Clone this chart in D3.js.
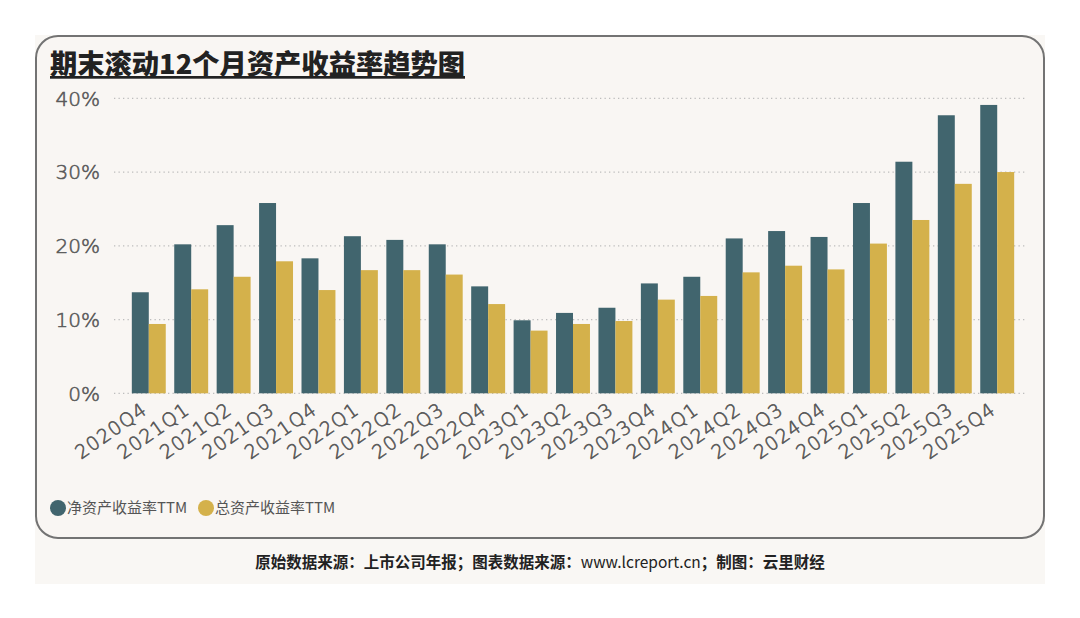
<!DOCTYPE html>
<html>
<head>
<meta charset="utf-8">
<script src="https://cdn.jsdelivr.net/npm/d3@7"></script>
<style>
  body { margin: 0; background: #fff; }
  svg { display: block; }
</style>
</head>
<body>
<svg id="chart" width="1080" height="618"></svg>
<script>
// data
var quarters = ["2020Q4","2021Q1","2021Q2","2021Q3","2021Q4","2022Q1","2022Q2","2022Q3","2022Q4",
  "2023Q1","2023Q2","2023Q3","2023Q4","2024Q1","2024Q2","2024Q3","2024Q4","2025Q1","2025Q2","2025Q3","2025Q4"];
var roe = [13.7,20.2,22.8,25.8,18.3,21.3,20.8,20.2,14.5,9.9,10.9,11.6,14.9,15.8,21.0,22.0,21.2,25.8,31.4,37.7,39.1];
var roa = [9.4,14.1,15.8,17.9,14.0,16.7,16.7,16.1,12.1,8.5,9.4,9.8,12.7,13.2,16.4,17.3,16.8,20.3,23.5,28.4,30.0];
var seriesNames = ["净资产收益率TTM", "总资产收益率TTM"];
var yTicks = [0, 10, 20, 30, 40];

var colors = ["#41656e", "#d4b14b"];

var svg = d3.select("#chart");

// background panel + card
svg.append("rect").attr("x", 35).attr("y", 35).attr("width", 1010).attr("height", 549)
  .attr("fill", "#f9f7f4");
svg.append("rect").attr("x", 36).attr("y", 36).attr("width", 1008).attr("height", 502)
  .attr("rx", 22).attr("ry", 22)
  .attr("fill", "#f9f6f3").attr("stroke", "#737373").attr("stroke-width", 2);

// title
svg.append("text").attr("x", 50).attr("y", 74)
  .attr("font-family", "'Noto Sans CJK SC'").attr("font-weight", 900)
  .attr("font-size", 27).attr("fill", "#222")
  .attr("text-decoration", "underline")
  .attr("textLength", 415).attr("lengthAdjust", "spacingAndGlyphs")
  .text("期末滚动12个月资产收益率趋势图");

var x = d3.scaleBand().domain(quarters).range([114, 1032]).paddingInner(0.2).paddingOuter(0.42);
var x1 = d3.scaleBand().domain([0, 1]).range([0, x.bandwidth()]);
var y = d3.scaleLinear().domain([0, 40]).range([393.3, 98.3]);

// grid
svg.selectAll(".grid").data(yTicks).enter().append("line")
  .attr("x1", 114).attr("x2", 1026)
  .attr("y1", function(d) { return y(d); }).attr("y2", function(d) { return y(d); })
  .attr("stroke", "#bdbdbd").attr("stroke-width", 1.3).attr("stroke-dasharray", "1.3,3.2");

// y labels
svg.selectAll(".ylab").data(yTicks).enter().append("text")
  .attr("x", 100).attr("y", function(d) { return y(d); })
  .attr("dy", "0.36em").attr("text-anchor", "end")
  .attr("font-family", "'DejaVu Sans'").attr("font-weight", 200)
  .attr("font-size", 20).attr("fill", "#5a5a5a")
  .attr("stroke", "#5a5a5a").attr("stroke-width", 0.6)
  .text(function(d) { return d + "%"; });

// bars
var series = [roe, roa];
series.forEach(function(vals, s) {
  svg.selectAll(".bar" + s).data(vals).enter().append("rect")
    .attr("x", function(d, i) { return x(quarters[i]) + x1(s); })
    .attr("width", x1.bandwidth())
    .attr("y", function(d) { return y(d); })
    .attr("height", function(d) { return y(0) - y(d); })
    .attr("fill", colors[s]);
});

// x labels
svg.selectAll(".xlab").data(quarters).enter().append("text")
  .attr("text-anchor", "end")
  .attr("transform", function(d) {
    return "translate(" + (x(d) + x.bandwidth() / 2 - 4) + ",407) rotate(-35)";
  })
  .attr("dy", "0.35em")
  .attr("letter-spacing", 1.2)
  .attr("font-family", "'DejaVu Sans'").attr("font-weight", 200)
  .attr("font-size", 19).attr("fill", "#555")
  .attr("stroke", "#555").attr("stroke-width", 0.6)
  .text(function(d) { return d; });

// legend
var lx = [58, 206];
seriesNames.forEach(function(n, i) {
  svg.append("circle").attr("cx", lx[i]).attr("cy", 508).attr("r", 8).attr("fill", colors[i]);
  svg.append("text").attr("x", lx[i] + 9).attr("y", 508).attr("dy", "0.36em")
    .attr("font-family", "'Noto Sans CJK SC'").attr("font-size", 15).attr("fill", "#555")
    .text(n);
});

// footer
var foot = svg.append("text").attr("x", 540).attr("y", 562).attr("dy", "0.36em")
  .attr("text-anchor", "middle").attr("font-family", "'Noto Sans CJK SC'")
  .attr("font-size", 15.5).attr("fill", "#222");
foot.append("tspan").attr("font-weight", "bold").text("原始数据来源：上市公司年报；图表数据来源：");
foot.append("tspan").text("www.lcreport.cn");
foot.append("tspan").attr("font-weight", "bold").text("；制图：云里财经");
</script>
</body>
</html>
